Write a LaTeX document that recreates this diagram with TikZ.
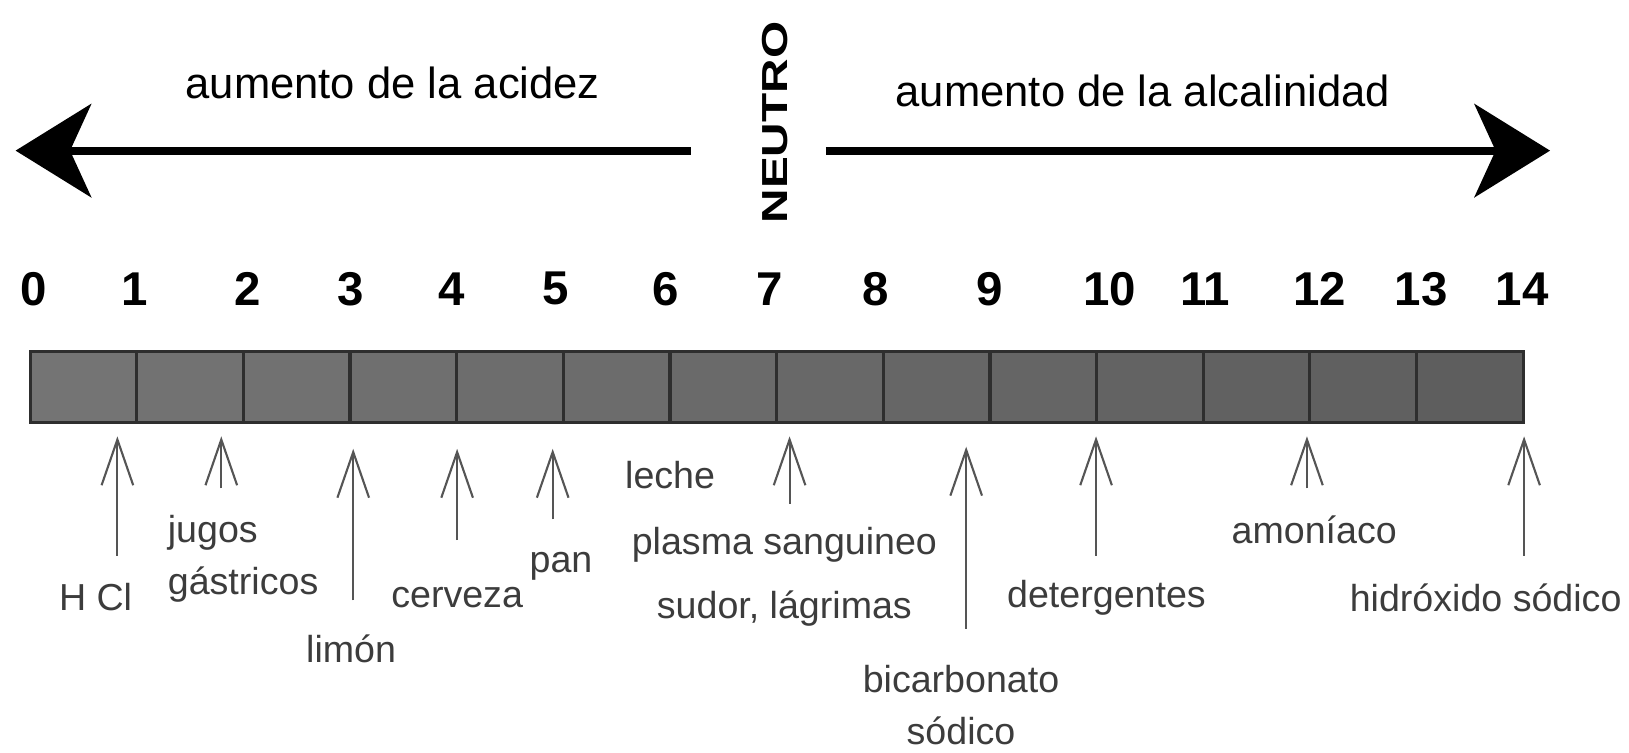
\documentclass[tikz,border=0pt]{standalone}
\usepackage{fontspec}
\setmainfont{Liberation Sans}
\usetikzlibrary{arrows.meta}

\definecolor{cellgray}{HTML}{747474}
\definecolor{celldark}{HTML}{525252}
\definecolor{edgegray}{HTML}{2E2E2E}
\definecolor{labelgray}{HTML}{3C3C3C}
\definecolor{pointgray}{HTML}{555555}

\begin{document}
\begin{tikzpicture}[x=0.010389cm,y=-0.010389cm,
		title/.style={font=\fontsize{12.4}{15}\selectfont},
		phnum/.style={font=\fontsize{13.5}{16}\selectfont\bfseries},
		sample/.style={font=\fontsize{10.7}{14.8}\selectfont,text=labelgray,align=center,inner sep=0pt},
		pointer/.style={draw=pointgray,line width=0.6pt,-{Straight Barb[length=13pt,width=9pt]}},
		trend/.style={line width=2.3pt,-{Stealth[length=21.5pt,width=26.5pt,inset=6pt]}}]
		\useasboundingbox (0,0) rectangle (1568,724);
		% trend arrows
		\coordinate (acid-start) at (665,145);
		\coordinate (acid-end) at (15,145);
		\coordinate (alc-start) at (795,145);
		\coordinate (alc-end) at (1492,145);
		\draw[trend] (acid-start) -- (acid-end);
		\draw[trend] (alc-start) -- (alc-end);
		\node[title] (acid) at (378,80) {aumento de la acidez};
		\node[title] (alc) at (1100,88) {aumento de la alcalinidad};
		\node[rotate=90,font=\fontsize{10.3}{12}\selectfont\bfseries] (neutral) at (746,118) {\scalebox{1.32}[1]{NEUTRO}};
		% pH values
		\foreach \v/\x in {0/32,1/130,2/238,3/338,4/435,5/535,6/641,7/741,8/843,9/953,10/1068,11/1160,12/1270,13/1368,14/1465}
		\node[phnum] (n\v) at (\x,278) {\v};
		% scale bar
		\foreach \i in {0,...,13}{
			\pgfmathsetmacro\shade{100-5*\i}
			\pgfmathsetmacro\xa{29+102.65*\i}
			\pgfmathsetmacro\xb{29+102.65*(\i+1)}
			\filldraw[fill=cellgray!\shade!celldark,draw=edgegray,line width=0.9pt] (\xa,338) rectangle (\xb,407);
		}
		% pointers
		\foreach \name/\x/\top/\bot in {hcl/113/420/535, jugos/213/420/470, limon/340/432/578, cerveza/440/432/520, pan/532/432/500, plasma/760/420/485, bicarb/930/430/605, deterg/1055/420/535, amon/1258/420/470, hidrox/1467/420/535}{
			\coordinate (\name-tail) at (\x,\bot);
			\coordinate (\name-tip) at (\x,\top);
			\draw[pointer] (\name-tail) -- (\name-tip);
		}
		% samples
		\node[sample] (hcl) at (92,575) {H Cl};
		\node[sample,align=left] (jugos) at (234,538) {jugos\\gástricos};
		\node[sample] (limon) at (338,625) {limón};
		\node[sample] (cerveza) at (440,575) {cerveza};
		\node[sample] (pan) at (540,545) {pan};
		\node[sample] (leche) at (645,457) {leche};
		\node[sample] (plasma) at (755,555) {plasma sanguineo\\[3.4pt]sudor, lágrimas};
		\node[sample] (bicarb) at (925,679) {bicarbonato\\sódico};
		\node[sample] (deterg) at (1065,575) {detergentes};
		\node[sample] (amon) at (1265,510) {amoníaco};
		\node[sample] (hidrox) at (1430,575) {hidróxido sódico};
\end{tikzpicture}
\end{document}
